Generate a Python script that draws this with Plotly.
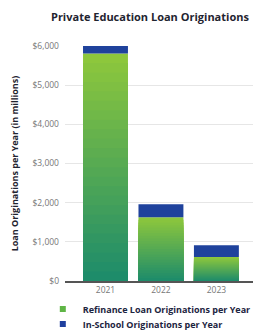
import plotly.graph_objects as go

years = ["2021", "2022", "2023"]
refinance = [5810, 1630, 610]
in_school = [190, 330, 300]
tick_vals = [0, 1000, 2000, 3000, 4000, 5000, 6000]
tick_text = ["$0", "$1,000", "$2,000", "$3,000", "$4,000", "$5,000", "$6,000"]

title = "Private Education Loan Originations"
y_title = "Loan Originations per Year (in millions)"
name_ref = "Refinance Loan Originations per Year"
name_school = "In-School Originations per Year"


def lerp(c1, c2, t):
    return "rgb({},{},{})".format(*[round(a + (b - a) * t) for a, b in zip(c1, c2)])


LIME = (141, 199, 60)
TEAL = (30, 140, 106)
N = 24

fig = go.Figure()
# gradient-like fill: overlaid bars of decreasing height, lime at top, teal at bottom
for k in range(N):
    frac = 1 - k / N
    fig.add_trace(go.Bar(
        x=years, y=[v * frac for v in refinance],
        marker=dict(color=lerp(LIME, TEAL, k / (N - 1)), line=dict(width=0)),
        name=name_ref, legendgroup="ref", showlegend=False,
        hoverinfo="skip" if k else None,
    ))
fig.add_trace(go.Bar(
    x=years, y=in_school, base=refinance,
    marker=dict(color="#1f429c", line=dict(width=0)),
    name=name_school, showlegend=False,
))
# legend entries (small square markers)
fig.add_trace(go.Scatter(x=[None], y=[None], mode="markers", name=name_ref,
                         marker=dict(symbol="square", size=6, color="#5fb546"),
                         legend="legend", showlegend=True))
fig.add_trace(go.Scatter(x=[None], y=[None], mode="markers", name=name_school,
                         marker=dict(symbol="square", size=6, color="#1f3f9e"),
                         legend="legend2", showlegend=True))

legend_font = dict(family="Open Sans", size=9, color="#1c2440", weight="bold")
common_leg = dict(orientation="v", xanchor="left", yanchor="middle", x=-0.115,
                  font=legend_font, itemsizing="trace", bgcolor="rgba(0,0,0,0)",
                  borderwidth=0)

# page has an 8px body margin: figure is 253x325, placed at (8,8)
fig.update_layout(
    width=253, height=325,
    margin=dict(l=57, r=3, t=38, b=52, autoexpand=False),
    barmode="overlay",
    bargap=0.19,
    plot_bgcolor="white", paper_bgcolor="white",
    title=dict(text="<b>" + title + "</b>", x=0.561, xanchor="center", y=0.972, yanchor="middle",
               font=dict(family="Open Sans", size=11, color="#1f2430")),
    font=dict(family="Open Sans", color="#777777", size=8),
    showlegend=True,
    legend=dict(y=(273 - 301) / 235, **common_leg),
    legend2=dict(y=(273 - 316) / 235, **common_leg),
    xaxis=dict(type="category", range=[-0.73, 2.75], showgrid=False,
               showline=True, linecolor="#555555", linewidth=1.5,
               tickfont=dict(size=8.5, color="#777777"), ticks=""),
    yaxis=dict(range=[0, 6000], tickvals=tick_vals, ticktext=tick_text,
               showgrid=True, gridcolor="#e6e6e6", gridwidth=1, zeroline=False,
               tickfont=dict(size=8.5, color="#777777"), ticklabelstandoff=5,
               title=dict(text="<b>" + y_title + "</b>", standoff=22,
                          font=dict(family="Open Sans", size=9, color="#1f2430"))),
)

fig.write_html("out.html")
